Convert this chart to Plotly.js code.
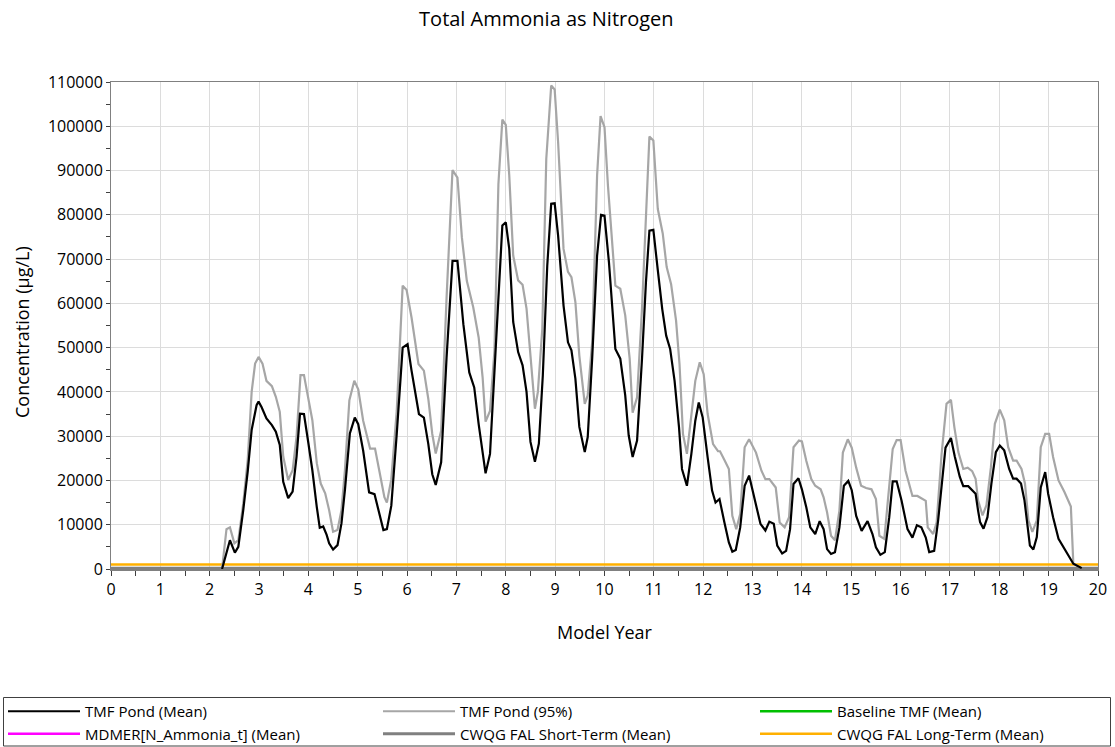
<!DOCTYPE html>
<html>
<head>
<meta charset="utf-8">
<script src="https://cdn.plot.ly/plotly-3.0.1.min.js"></script>
<style>html,body{margin:0;padding:0;background:#fff;}#chart{width:1115px;height:747px;}</style>
</head>
<body>
<div id="chart"></div>
<script>
// Values in thousands of µg/L (scaled by 1000 when plotted)
const SCALE = 1000;

const meanYears = [2.25,2.41,2.51,2.58,2.68,2.77,2.85,2.95,2.99,3.05,3.15,3.26,3.34,3.42,3.49,3.59,3.68,3.76,3.83,3.91,
  4.0,4.08,4.17,4.23,4.30,4.37,4.42,4.50,4.59,4.67,4.74,4.84,4.94,5.01,5.11,5.23,5.34,5.43,5.52,5.59,
  5.68,5.79,5.91,6.01,6.09,6.24,6.34,6.43,6.51,6.58,6.69,6.80,6.92,7.02,7.14,7.26,7.36,7.45,7.53,7.59,
  7.68,7.78,7.93,8.0,8.07,8.15,8.25,8.34,8.42,8.50,8.59,8.67,8.75,8.84,8.92,8.99,9.06,9.17,9.26,9.33,
  9.41,9.49,9.60,9.66,9.75,9.85,9.93,10.0,10.09,10.22,10.32,10.42,10.49,10.57,10.66,10.76,10.84,10.91,10.99,11.08,
  11.17,11.25,11.33,11.42,11.51,11.57,11.67,11.76,11.84,11.91,11.99,12.09,12.18,12.25,12.33,12.43,12.52,12.59,12.66,12.75,
  12.84,12.93,13.02,13.16,13.26,13.34,13.43,13.50,13.60,13.68,13.76,13.83,13.93,14.0,14.09,14.17,14.27,14.36,14.44,14.51,
  14.59,14.67,14.76,14.85,14.94,15.01,15.10,15.21,15.33,15.43,15.50,15.59,15.68,15.77,15.84,15.92,16.02,16.14,16.24,16.33,
  16.42,16.51,16.58,16.68,16.76,16.91,17.02,17.10,17.20,17.27,17.37,17.45,17.52,17.57,17.61,17.68,17.76,17.84,17.93,18.01,
  18.10,18.20,18.28,18.35,18.44,18.51,18.62,18.69,18.76,18.84,18.93,18.99,19.09,19.20,19.33,19.50,19.67];
const meanValues = [0,6.5,3.7,5.0,13.3,22.0,31.4,37.0,37.8,36.6,34.0,32.5,31.0,28.0,19.7,16.0,17.5,25.4,35.1,35.0,
  28.4,22.3,14.0,9.3,9.6,7.7,5.8,4.4,5.4,10.3,17.8,30.6,34.2,32.7,26.7,17.3,16.9,12.8,8.8,9.0,
  14.3,30.5,50.0,50.8,44.8,35.0,34.2,28.2,21.4,19.0,24.1,47.8,69.6,69.6,55.3,44.4,41.0,32.7,26.0,21.6,
  26.0,45.5,77.6,78.3,72.3,55.8,49.0,46.0,40.0,28.7,24.2,28.3,43.7,68.5,82.5,82.6,75.3,59.5,51.2,49.4,
  43.0,32.1,26.4,29.8,47.5,70.8,80.0,79.8,69.3,49.7,47.5,39.2,30.2,25.3,29.0,47.5,64.8,76.4,76.6,67.5,
  58.7,52.7,49.7,42.5,32.0,22.6,18.8,26.0,33.5,37.6,34.2,25.2,17.7,15.0,15.8,10.5,6.0,3.9,4.3,9.4,
  18.8,21.1,16.9,10.2,8.7,10.7,10.2,5.3,3.5,4.1,9.0,19.2,20.5,18.0,13.9,9.4,7.9,10.8,9.0,4.5,
  3.4,3.8,9.4,18.8,19.9,17.8,12.0,8.6,10.8,7.9,4.9,3.2,3.8,11.7,19.8,19.8,15.4,9.0,7.1,9.9,
  9.4,7.1,3.8,4.1,10.9,27.4,29.6,25.3,20.8,18.7,18.7,17.8,17.0,13.2,10.6,9.1,11.7,19.3,26.4,27.9,
  26.8,22.6,20.4,20.4,19.3,15.5,5.3,4.4,7.2,18.4,21.9,17.0,11.7,6.8,4.4,1.2,0.2];

const p95Years = [2.25,2.34,2.41,2.50,2.58,2.68,2.77,2.85,2.92,2.99,3.07,3.15,3.26,3.34,3.42,3.49,3.59,3.68,3.76,3.84,
  3.91,4.0,4.08,4.17,4.25,4.34,4.42,4.50,4.59,4.67,4.74,4.83,4.93,5.01,5.11,5.25,5.35,5.43,5.54,5.59,
  5.68,5.79,5.91,5.99,6.09,6.23,6.34,6.43,6.51,6.58,6.69,6.80,6.92,7.02,7.11,7.21,7.34,7.45,7.53,7.59,
  7.68,7.77,7.85,7.93,8.0,8.07,8.15,8.25,8.34,8.42,8.50,8.59,8.65,8.74,8.82,8.92,8.99,9.06,9.17,9.26,
  9.33,9.41,9.49,9.60,9.66,9.75,9.85,9.92,10.0,10.07,10.22,10.32,10.42,10.51,10.57,10.66,10.76,10.84,10.91,10.99,
  11.08,11.18,11.26,11.35,11.45,11.52,11.59,11.67,11.76,11.84,11.93,12.01,12.09,12.20,12.30,12.34,12.43,12.52,12.59,12.67,
  12.75,12.84,12.93,13.07,13.18,13.26,13.34,13.47,13.55,13.65,13.74,13.83,13.94,14.0,14.09,14.19,14.27,14.38,14.44,14.51,
  14.59,14.67,14.76,14.83,14.93,15.01,15.10,15.20,15.30,15.41,15.50,15.57,15.67,15.75,15.84,15.92,16.0,16.10,16.24,16.34,
  16.44,16.51,16.55,16.66,16.73,16.83,16.93,17.02,17.09,17.17,17.27,17.36,17.45,17.52,17.57,17.66,17.74,17.83,17.91,18.01,
  18.10,18.18,18.28,18.35,18.45,18.52,18.59,18.67,18.76,18.84,18.93,19.01,19.09,19.20,19.32,19.45,19.50,19.67];
const p95Values = [0,9.0,9.4,5.8,6.5,14.8,24.6,40.0,46.4,47.9,46.4,42.5,41.3,38.9,35.5,25.4,20.1,22.3,29.9,43.8,
  43.8,38.1,33.6,23.9,19.3,17.1,13.3,8.4,8.8,13.3,22.3,38.1,42.5,40.6,33.5,27.2,27.2,22.6,16.2,15.0,
  20.3,35.7,64.0,63.0,56.8,46.3,44.8,38.4,30.5,26.1,31.2,61.3,90.1,88.4,74.9,65.1,59.1,52.3,43.3,33.3,
  35.7,49.3,86.9,101.5,100.3,88.9,70.8,65.2,64.2,58.8,47.5,36.2,40.0,54.3,92.6,109.2,108.3,96.4,72.3,67.1,
  65.9,60.3,48.2,37.3,39.2,51.2,88.9,102.3,99.8,86.6,64.0,63.3,57.3,47.5,35.3,38.8,58.8,79.8,97.7,96.8,
  81.3,75.8,68.2,64.3,56.1,46.3,30.5,26.0,34.2,42.5,46.7,44.0,35.0,28.2,26.6,26.6,24.6,22.6,12.0,9.0,
  12.4,27.5,29.3,26.3,22.2,20.3,20.3,18.4,10.5,9.4,11.7,27.5,29.0,28.8,24.4,20.3,18.8,18.0,16.2,12.8,
  7.5,6.5,13.2,26.3,29.3,27.4,22.9,18.8,18.3,18.0,15.8,7.5,6.8,16.2,27.1,29.1,29.1,22.2,16.5,16.5,
  15.8,15.4,9.4,7.9,10.5,25.9,37.3,38.2,32.0,26.4,22.6,22.9,22.1,20.4,15.5,12.1,14.4,23.0,32.8,36.0,
  33.6,27.5,24.5,24.5,22.6,19.3,11.0,8.4,11.0,27.5,30.5,30.5,25.3,20.0,17.4,14.1,1.2,0.2];

const guideYears = [0, 20];
const baselineValues = [0, 0];
const mdmerValues = [0, 0];
const shortTermValues = [0.15, 0.15];
const longTermValues = [1.0, 1.0];

const seriesNames = ['TMF Pond (Mean)','TMF Pond (95%)','Baseline TMF (Mean)','MDMER[N_Ammonia_t] (Mean)','CWQG FAL Short-Term (Mean)','CWQG FAL Long-Term (Mean)'];
const xTickLabels = ['0','1','2','3','4','5','6','7','8','9','10','11','12','13','14','15','16','17','18','19','20'];
const titleText = 'Total Ammonia as Nitrogen';
const xTitleText = 'Model Year';
const yTitleText = 'Concentration (µg/L)';

const sc = a => a.map(v => v * SCALE);

const traces = [
  {x: meanYears, y: sc(meanValues), name: seriesNames[0], mode:'lines', line:{color:'#000000', width:2.2}, legend:'legend', legendrank:1},
  {x: p95Years, y: sc(p95Values), name: seriesNames[1], mode:'lines', line:{color:'#a6a6a6', width:2.2}, legend:'legend2', legendrank:1},
  {x: guideYears, y: sc(baselineValues), name: seriesNames[2], mode:'lines', line:{color:'#00c000', width:2.5}, legend:'legend3', legendrank:1},
  {x: guideYears, y: sc(mdmerValues), name: seriesNames[3], mode:'lines', line:{color:'#ff00ff', width:2.5}, legend:'legend', legendrank:2},
  {x: guideYears, y: sc(shortTermValues), name: seriesNames[4], mode:'lines', line:{color:'#808080', width:3}, legend:'legend2', legendrank:2},
  {x: guideYears, y: sc(longTermValues), name: seriesNames[5], mode:'lines', line:{color:'#ffb000', width:2.5}, legend:'legend3', legendrank:2}
];
traces.forEach(t=>{ t.hoverinfo='skip'; t.showlegend = true; });
const drawOrder = [2,3,4,5,1,0].map(i=>traces[i]);

const fontMain = '"Open Sans", "DejaVu Sans", sans-serif';
const W = 1115, H = 747;
const mkLegend = (px) => ({
  orientation:'v', xref:'container', yref:'container', x: px / W, xanchor:'left', y: 1 - 695 / H, yanchor:'top',
  borderwidth:0, bgcolor:'rgba(0,0,0,0)', font:{size:15, family: fontMain, color:'#000'},
  itemwidth:72, traceorder:'normal', tracegroupgap:0
});

// plot area in px: left 111, right 1098, top 82, bottom 569
const pxToPaperX = px => (px - 111) / 987;
const pxToPaperY = py => (569 - py) / 487;

const layout = {
  width: W, height: H,
  margin: {l:111, r:17, t:82, b:178, autoexpand:false},
  paper_bgcolor:'#ffffff', plot_bgcolor:'#ffffff',
  font: {family: fontMain, color:'#000000', size:15},
  title: {text: titleText, x:0.49, xref:'container', xanchor:'center', y:0.974, yref:'container', yanchor:'middle', font:{size:20, family: fontMain, color:'#000'}},
  showlegend: true,
  xaxis: {
    range:[0,20], tickmode:'array', tickvals: xTickLabels.map(Number), ticktext: xTickLabels,
    showgrid:true, gridcolor:'#dcdcdc', gridwidth:1,
    ticks:'outside', ticklen:5, tickcolor:'#404040',
    minor:{dtick:0.5, tick0:0, ticks:'outside', ticklen:5, tickcolor:'#404040', showgrid:false},
    showline:true, linecolor:'#808080', linewidth:1.5, mirror:true,
    zeroline:false, tickfont:{size:16},
    title:{text: xTitleText, font:{size:18}, standoff:27}
  },
  yaxis: {
    range:[0,110000], tickmode:'linear', tick0:0, dtick:10000, tickformat:'d',
    showgrid:true, gridcolor:'#dcdcdc', gridwidth:1,
    ticks:'outside', ticklen:4, tickcolor:'#404040',
    minor:{dtick:5000, tick0:0, ticks:'outside', ticklen:4, tickcolor:'#404040', showgrid:false},
    showline:true, linecolor:'#808080', linewidth:1, mirror:true,
    zeroline:false, tickfont:{size:16}
  },
  legend: mkLegend(3),
  legend2: mkLegend(378),
  legend3: mkLegend(755),
  annotations: [{
    text: yTitleText, xref:'paper', yref:'paper', x: pxToPaperX(22), y: pxToPaperY(332),
    xanchor:'center', yanchor:'middle', textangle:-90, showarrow:false,
    font:{size:18, family: fontMain, color:'#000'}
  }],
  shapes: [{
    type:'rect', xref:'paper', yref:'paper',
    x0: pxToPaperX(3.5), x1: pxToPaperX(1110.5), y0: pxToPaperY(697.5), y1: pxToPaperY(746),
    line:{color:'#404040', width:1}, fillcolor:'rgba(0,0,0,0)', layer:'below'
  }]
};

Plotly.newPlot('chart', drawOrder, layout, {displayModeBar:false, staticPlot:true});
</script>
</body>
</html>
